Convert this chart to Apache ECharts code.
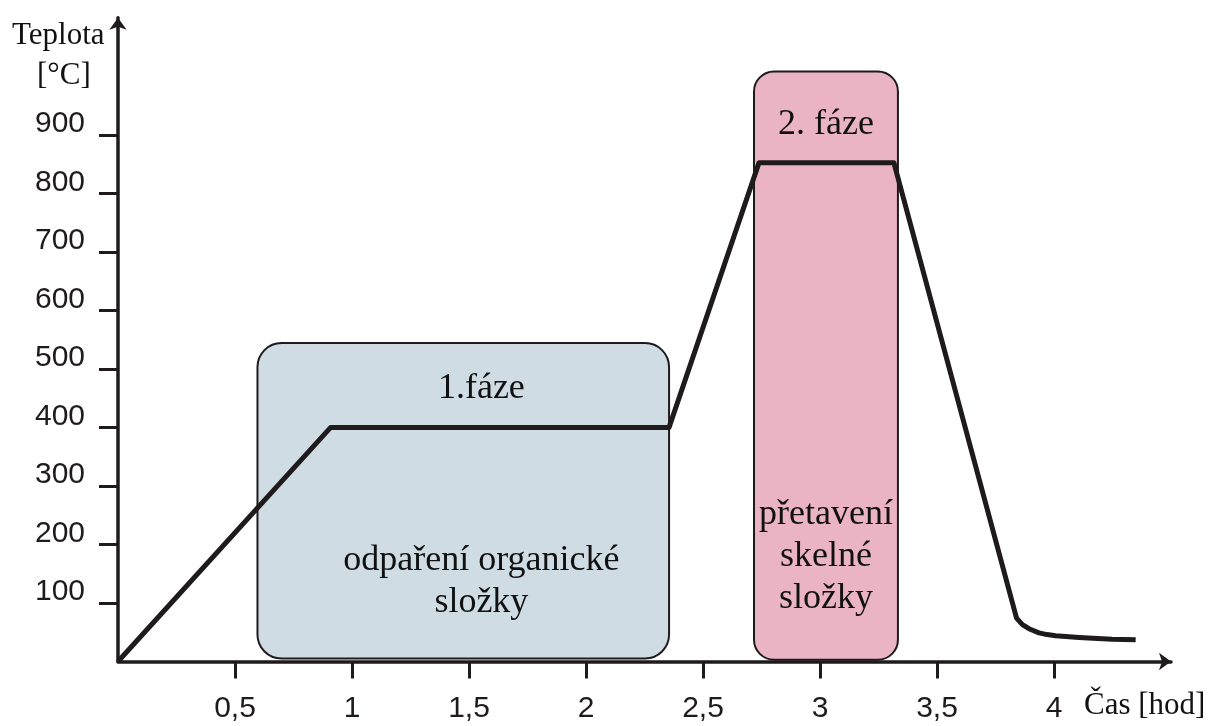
<!DOCTYPE html>
<html>
<head>
<meta charset="utf-8">
<script src="https://cdn.jsdelivr.net/npm/echarts@6/dist/echarts.min.js"></script>
<style>
  html, body { margin: 0; padding: 0; background: #fff; }
  #chart { width: 1219px; height: 726px; }
</style>
</head>
<body>
<div id="chart"></div>
<script>
// time [hod] and temperature [°C] of the firing curve
const timeValues = [0, 0.909, 2.355, 2.739, 3.316, 3.84, 3.865, 3.893, 3.936, 3.97, 4.007, 4.107, 4.248, 4.349]
const tempValues = [0, 400, 400, 852, 852, 74, 63, 56, 49, 46, 44, 41, 38, 37]

// tick labels
const timeTicks = [0.5, 1, 1.5, 2, 2.5, 3, 3.5, 4]
const tempTicks = [100, 200, 300, 400, 500, 600, 700, 800, 900]

// phase boxes (time from / to, temperature bottom / top)
const phaseStart = [0.596, 2.718]
const phaseEnd = [2.355, 3.333]
const phaseBottom = [5, 3]
const phaseTop = [544, 1008]
const phaseTitles = ['1.fáze', '2. fáze']
const phaseNotes = ['odpaření organické\nsložky', 'přetavení\nskelné\nsložky']

// look of each box: fill, corner radius, text offsets in px
const boxLook = [
  { fill: '#cfdce4', r: 24, titleX: 0.544, titleDy: 45, noteDy: -77 },
  { fill: '#ebb4c4', r: 20, titleX: 0.5, titleDy: 53, noteDy: -103 }
]

const serif = '"Liberation Serif", "DejaVu Serif", serif'
const sans = '"Liberation Sans", Arial, sans-serif'
const ink = '#1f1b1c'

let myChart = echarts.init(document.getElementById('chart'))

myChart.setOption({
  animation: false,
  grid: {
    left: 118,
    right: 48,
    top: 17.7,
    bottom: 64.5
  },
  xAxis: {
    type: 'value',
    min: 0,
    max: 4.5,
    interval: 0.5,
    splitLine: { show: false },
    axisLine: {
      lineStyle: { color: ink, width: 3.5 },
      symbol: ['none', 'arrow'],
      symbolSize: [13, 12]
    },
    axisTick: {
      customValues: timeTicks,
      length: 17,
      lineStyle: { color: ink, width: 3 }
    },
    axisLabel: {
      customValues: timeTicks,
      margin: 32,
      fontFamily: sans,
      fontSize: 30,
      color: ink,
      // ? Czech decimal comma
      formatter: v => String(v).replace('.', ',')
    }
  },
  yAxis: {
    type: 'value',
    min: 0,
    max: 1100,
    interval: 100,
    splitLine: { show: false },
    axisLine: {
      lineStyle: { color: ink, width: 3.5 },
      symbol: ['none', 'arrow'],
      symbolSize: [13, 12]
    },
    axisTick: {
      customValues: tempTicks,
      length: 19,
      lineStyle: { color: ink, width: 3 }
    },
    axisLabel: {
      customValues: tempTicks,
      margin: 33,
      fontFamily: sans,
      fontSize: 30,
      color: ink,
      // ! labels sit above their ticks
      verticalAlign: 'bottom',
      lineHeight: 22
    }
  },
  graphic: [
    {
      type: 'text', left: 12, top: 20,
      style: { text: 'Teplota', font: '31px ' + serif, fill: '#111' }
    },
    {
      type: 'text', left: 37, top: 60,
      style: { text: '[°C]', font: '31px ' + serif, fill: '#111' }
    },
    {
      type: 'text', left: 1084, top: 690,
      style: { text: 'Čas [hod]', font: '31px ' + serif, fill: '#111' }
    }
  ],
  series: [
    {
      type: 'custom',
      z: 1,
      data: phaseStart.map((s, i) => [s, phaseEnd[i], phaseBottom[i], phaseTop[i]]),
      encode: { x: [0, 1], y: [2, 3] },
      renderItem: function (params, api) {
        let i = params.dataIndex
        let look = boxLook[i]
        let p0 = api.coord([api.value(0), api.value(3)])
        let p1 = api.coord([api.value(1), api.value(2)])
        let w = p1[0] - p0[0]
        return {
          type: 'group',
          children: [
            {
              type: 'rect',
              shape: { x: p0[0], y: p0[1], width: w, height: p1[1] - p0[1], r: look.r },
              style: { fill: look.fill, stroke: ink, lineWidth: 2 }
            },
            {
              type: 'text',
              x: p0[0] + w * look.titleX,
              y: p0[1] + look.titleDy,
              style: {
                text: phaseTitles[i], font: '36px ' + serif, fill: '#111',
                align: 'center', verticalAlign: 'middle'
              }
            },
            {
              type: 'text',
              x: p0[0] + w * look.titleX,
              y: p1[1] + look.noteDy,
              style: {
                text: phaseNotes[i], font: '36px ' + serif, fill: '#111',
                align: 'center', verticalAlign: 'middle', lineHeight: 42
              }
            }
          ]
        }
      }
    },
    {
      type: 'line',
      z: 3,
      data: timeValues.map((t, i) => [t, tempValues[i]]),
      showSymbol: false,
      symbol: 'none',
      lineStyle: { color: ink, width: 5, join: 'round' }
    }
  ]
})
</script>
</body>
</html>
